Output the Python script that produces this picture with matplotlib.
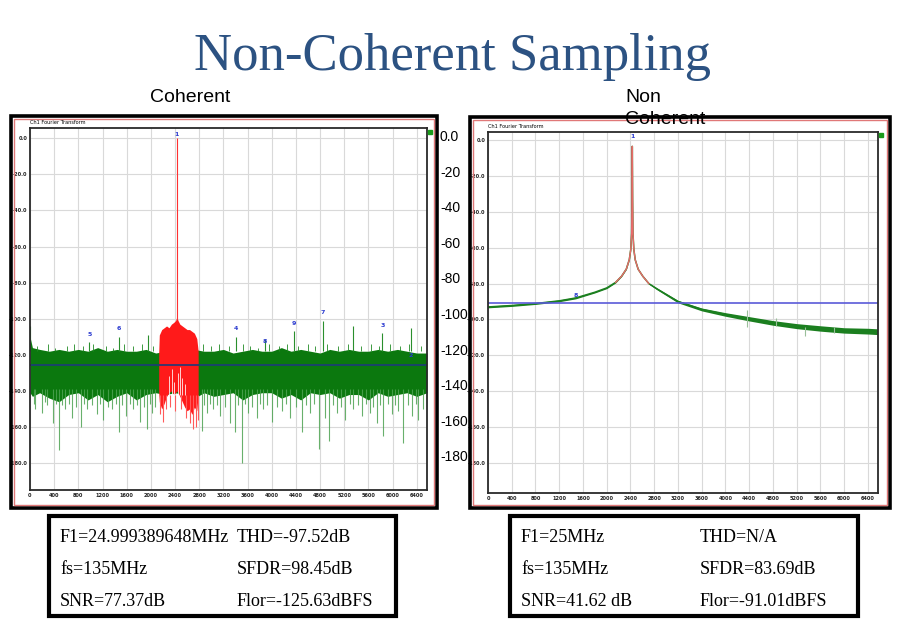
import matplotlib.pyplot as plt
from matplotlib.patches import Rectangle

# canvas size in pixels (figure is built in pixel coordinates)
W, H = 900, 628

# ---------------- shared axis ticks ----------------
FREQ_TICKS = [0, 400, 800, 1200, 1600, 2000, 2400, 2800, 3200, 3600,
              4000, 4400, 4800, 5200, 5600, 6000, 6400]
DB_TICKS = [0, -20, -40, -60, -80, -100, -120, -140, -160, -180]
DB_TICK_LABELS = ['0.0', '-20.0', '-40.0', '-60.0', '-80.0', '-100.0',
                  '-120.0', '-140.0', '-160.0', '-180.0']
SIDE_LABELS = ['0.0', '-20', '-40', '-60', '-80', '-100', '-120', '-140', '-160', '-180']

# ---------------- coherent spectrum ----------------
COH_NOISE_X = [0, 40, 160, 320, 480, 640, 800, 960, 1120, 1280, 1440, 1600, 1760,
               1920, 2080, 2240, 2400, 2560, 2720, 2880, 3040, 3200, 3360, 3520,
               3680, 3840, 4000, 4160, 4320, 4480, 4640, 4800, 4960, 5120, 5280,
               5440, 5600, 5760, 5920, 6080, 6240, 6400, 6570]
COH_NOISE_TOP = [-110, -116, -117, -118, -117, -118, -117, -118, -116, -118, -117, -118, -118,
                 -117, -119, -118, -117, -118, -117, -118, -118, -117, -119, -118,
                 -117, -118, -118, -116, -118, -117, -118, -119, -117, -118, -117,
                 -118, -118, -117, -118, -117, -118, -119, -119]
COH_NOISE_BOT = [-141, -143, -141, -144, -146, -142, -141, -145, -142, -146, -143, -141, -145,
                 -142, -141, -142, -141, -142, -144, -141, -143, -142, -141, -145,
                 -142, -141, -141, -144, -142, -145, -141, -142, -141, -144, -142,
                 -142, -145, -141, -143, -142, -141, -143, -141]

COH_DIP_X = [60, 83, 193, 240, 276, 386, 430, 486, 530, 579, 640, 690, 760, 844, 900,
             949, 1030, 1103, 1160, 1214, 1290, 1352, 1420, 1479, 1530, 1589, 1650,
             1710, 1770, 1821, 1880, 1931, 1980, 2014, 2070, 2841, 2880, 2924, 2980,
             3034, 3090, 3145, 3230, 3310, 3398, 3450, 3503, 3560, 3614, 3680, 3752,
             3800, 3862, 3930, 4000, 4080, 4165, 4230, 4303, 4400, 4496, 4560, 4634,
             4700, 4783, 4883, 4954, 5010, 5076, 5140, 5214, 5290, 5352, 5420, 5490,
             5560, 5627, 5680, 5738, 5800, 5848, 5920, 5986, 6040, 6097, 6179, 6250,
             6317, 6380, 6427, 6510]
COH_DIP_DB = [-147, -150, -152, -146, -148, -158, -147, -173, -148, -150, -147, -155, -149, -160, -147,
              -150, -148, -153, -147, -156, -149, -150, -147, -163, -148, -154, -147,
              -150, -148, -157, -149, -161, -147, -152, -149, -162, -148, -152, -147,
              -150, -148, -154, -149, -158, -163, -148, -180, -147, -152, -149, -155,
              -147, -150, -148, -157, -149, -151, -147, -155, -149, -163, -148, -152,
              -147, -172, -155, -168, -148, -152, -149, -156, -147, -150, -148, -154,
              -147, -152, -149, -158, -148, -165, -147, -153, -148, -151, -169, -148,
              -154, -147, -156, -150]

COH_TUFT_X = [120, 300, 420, 610, 720, 870, 1050, 1250, 1380, 1560, 1700, 1860, 2040,
              2870, 3000, 3120, 3300, 3520, 3640, 3780, 3960, 4120, 4260, 4440, 4600,
              4720, 4920, 5100, 5260, 5480, 5650, 5780, 5960, 6130, 6280, 6470]
COH_TUFT_DB = [-115, -114, -116, -115, -114, -115, -114, -115, -116, -114, -115, -114, -115,
               -114, -115, -114, -115, -114, -115, -116, -114, -115, -114, -115, -114,
               -115, -114, -115, -114, -115, -114, -115, -114, -115, -114, -115]

COH_SPUR_X = [8, 982, 1473, 1948, 3415, 3890, 4370, 4850, 5341, 5832, 6306]
COH_SPUR_DB = [-104, -113, -110, -109, -110, -111, -107, -101, -104, -108, -105]
COH_SPUR_LABEL = ['', '5', '6', '', '4', '8', '9', '7', '', '3', '2']
COH_SPUR_LABEL_DB = [0, -110, -107, 0, -107, -114, -104, -98, 0, -105, -122]

COH_RED_X = [2130, 2140, 2180, 2220, 2260, 2300, 2340, 2380, 2410, 2430, 2450, 2480,
             2520, 2560, 2600, 2640, 2680, 2720, 2760, 2783]
COH_RED_TOP = [-119, -109, -106, -105, -104, -105, -103, -102, -101, -99, -101, -103,
               -104, -105, -106, -106, -107, -108, -111, -118]
COH_RED_BOT = [-141, -146, -150, -147, -143, -141, -140, -142, -141, -140, -141, -143,
               -146, -149, -151, -150, -153, -149, -151, -142]
COH_RED_DIP_X = [2150, 2200, 2250, 2320, 2400, 2500, 2580, 2650, 2700, 2745, 2775]
COH_RED_DIP_DB = [-153, -157, -150, -149, -151, -150, -155, -158, -161, -160, -156]
COH_RED_GAP_X = [2300, 2350, 2390, 2445, 2475, 2520, 2560]
COH_RED_GAP_DB = [-132, -128, -135, -130, -127, -133, -136]

COH_TONE_X = 2430
COH_FLOOR = -125.63

# ---------------- non-coherent spectrum ----------------
NC_X = [0, 400, 800, 1200, 1476, 1800, 2000, 2150, 2250, 2330, 2380, 2405, 2420, 2426,
        2431, 2436, 2442, 2457, 2480, 2530, 2610, 2710, 2850, 3000, 3200, 3600, 4000,
        4400, 4800, 5200, 5600, 6000, 6400, 6560]
NC_DB = [-93.0, -92.2, -91.1, -89.6, -88.0, -84.8, -82.4, -79.3, -75.9, -71.9, -66.7,
         -61.0, -52.0, -33.0, -3.5, -33.0, -52.0, -61.0, -66.7, -72.0, -76.0, -80.0,
         -83.0, -86.0, -90.0, -94.4, -97.2, -99.6, -101.9, -103.7, -105.0, -106.1,
         -106.5, -106.8]
NC_SPREAD = [0.5, 0.5, 0.5, 0.5, 0.5, 0.4, 0.4, 0.3, 0.2, 0.2, 0.1, 0.1, 0.1, 0.1,
             0.0, 0.1, 0.1, 0.1, 0.1, 0.2, 0.2, 0.3, 0.5, 0.6, 0.7, 0.8, 1.0,
             1.2, 1.3, 1.4, 1.5, 1.5, 1.6, 1.6]
NC_SPUR_X = [4370, 4850, 5341, 5832]
NC_SPUR_TOP = [-94.5, -99.0, -104.0, -104.0]
NC_SPUR_BOT = [-104.0, -103.5, -109.0, -107.5]
NC_FLOOR = -91.01

# ---------------- stats boxes ----------------
COH_STATS = [['F1=24.999389648MHz', 'THD=-97.52dB'],
             ['fs=135MHz', 'SFDR=98.45dB'],
             ['SNR=77.37dB', 'Flor=-125.63dBFS']]
NC_STATS = [['F1=25MHz', 'THD=N/A'],
            ['fs=135MHz', 'SFDR=83.69dB'],
            ['SNR=41.62 dB', 'Flor=-91.01dBFS']]


def px_box(x0, y0, x1, y1):
    return [x0 / W, 1 - y1 / H, (x1 - x0) / W, (y1 - y0) / H]


def fig_rect(fig, x0, y0, x1, y1, color, lw):
    fig.add_artist(Rectangle((x0 / W, 1 - y1 / H), (x1 - x0) / W, (y1 - y0) / H,
                             transform=fig.transFigure, fill=False, ec=color, lw=lw))


def panel_frame(fig, x0, y0, x1, y1):
    fig_rect(fig, x0, y0, x1, y1, 'black', 2.6)
    fig_rect(fig, x0 + 3, y0 + 3, x1 - 3, y1 - 3, '#e07878', 1.0)


def style_axes(ax, ylim):
    ax.set_xlim(0, 6570)
    ax.set_ylim(*ylim)
    ax.set_xticks(FREQ_TICKS)
    ax.set_xticklabels([str(t) for t in FREQ_TICKS], fontsize=3.6, fontweight='bold')
    ax.set_yticks(DB_TICKS)
    ax.set_yticklabels(DB_TICK_LABELS, fontsize=3.6, fontweight='bold')
    ax.tick_params(length=0, pad=2, colors='#222222')
    ax.grid(True, color='#d9d9d9', lw=0.8)
    ax.set_axisbelow(True)
    for s in ax.spines.values():
        s.set_color('#2a2a2a')
        s.set_linewidth(1.3)


fig = plt.figure(figsize=(9, 6.28), dpi=100)

fig.text(453 / W, 1 - 70 / H, 'Non-Coherent Sampling', ha='center', va='baseline',
         family='Liberation Serif', fontsize=38, color='#2c5282')
fig.text(150 / W, 1 - 97 / H, 'Coherent', ha='left', va='center',
         family='Liberation Sans', fontsize=14)

# ---- left panel: coherent ----
panel_frame(fig, 11, 116, 437, 508)
ax1 = fig.add_axes(px_box(30, 128, 427, 490))
style_axes(ax1, (-194.9, 5.7))
ax1.fill_between(COH_NOISE_X, COH_NOISE_BOT, COH_NOISE_TOP, color='#0b780e', lw=0)
ax1.vlines(COH_DIP_X, -139, COH_DIP_DB, color='#4ea352', lw=0.8, alpha=0.85)
ax1.vlines(COH_TUFT_X, -118, COH_TUFT_DB, color='#1f8a22', lw=0.6)
ax1.vlines(COH_SPUR_X, -118, COH_SPUR_DB, color='#2a8f2d', lw=0.8)
for x, lab, y in zip(COH_SPUR_X, COH_SPUR_LABEL, COH_SPUR_LABEL_DB):
    if lab:
        ax1.text(x, y, lab, ha='center', va='bottom', fontsize=4.5,
                 color='#2b3bd0', fontweight='bold')
ax1.fill_between(COH_RED_X, COH_RED_BOT, COH_RED_TOP, color='#ff1a1a', lw=0)
ax1.vlines(COH_RED_GAP_X, COH_RED_GAP_DB, -142, color='white', lw=0.7, alpha=0.8)
ax1.vlines(COH_RED_DIP_X, -142, COH_RED_DIP_DB, color='#ff5a5a', lw=0.8)
ax1.vlines([COH_TONE_X], -100, 0, color='#ff3030', lw=0.8)
ax1.text(COH_TONE_X, 0.5, '1', ha='center', va='bottom', fontsize=4.5,
         color='#2b3bd0', fontweight='bold')
ax1.axhline(COH_FLOOR, color='#1c3a78', lw=1.2)
fig.text(30 / W, 1 - 123 / H, 'Ch1 Fourier Transform', fontsize=3.6, va='center')
fig.add_artist(Rectangle((428 / W, 1 - 134 / H), 4 / W, 4 / H,
                         transform=fig.transFigure, color='#1a9a1a'))
for k, lab in enumerate(SIDE_LABELS):
    fig.text(440 / W, 1 - (137 + 35.6 * k) / H, lab, ha='left', va='center',
             family='Liberation Sans', fontsize=10)

# ---- right panel: non-coherent ----
panel_frame(fig, 470, 117, 890, 508)
ax2 = fig.add_axes(px_box(488, 132, 878, 493))
style_axes(ax2, (-196.7, 4.5))
lo = [d - s for d, s in zip(NC_DB, NC_SPREAD)]
hi = [d + s for d, s in zip(NC_DB, NC_SPREAD)]
ax2.fill_between(NC_X, lo, hi, color='#1b7f1f', lw=0)
ax2.plot(NC_X, NC_DB, color='#1b7f1f', lw=1.1)
ax2.plot(NC_X[7:22], NC_DB[7:22], color='#e86a6a', lw=1.0)
ax2.vlines(NC_SPUR_X, NC_SPUR_BOT, NC_SPUR_TOP, color='#9abf9a', lw=0.8)
ax2.axhline(NC_FLOOR, color='#5a5ad8', lw=1.2)
ax2.text(1476, -88, '8', ha='center', va='bottom', fontsize=4.5,
         color='#2b3bd0', fontweight='bold')
ax2.text(2431, 0.5, '1', ha='center', va='bottom', fontsize=4.5,
         color='#2b3bd0', fontweight='bold')
fig.text(488 / W, 1 - 126 / H, 'Ch1 Fourier Transform', fontsize=3.6, va='center')
fig.add_artist(Rectangle((879 / W, 1 - 137 / H), 4 / W, 4 / H,
                         transform=fig.transFigure, color='#1a9a1a'))
fig.text(625 / W, 1 - 97 / H, 'Non', ha='left', va='center',
         family='Liberation Sans', fontsize=14)
fig.text(625 / W, 1 - 120 / H, 'Coherent', ha='left', va='center',
         family='Liberation Sans', fontsize=14)

# ---- stats boxes ----
for (x0, x1, col2, stats) in [(49, 396, 237, COH_STATS), (510, 858, 700, NC_STATS)]:
    fig_rect(fig, x0, 516, x1, 616, 'black', 3)
    for r, row in enumerate(stats):
        y = 1 - (537 + 32.5 * r) / H
        fig.text((x0 + 11) / W, y, row[0], ha='left', va='center',
                 family='Liberation Serif', fontsize=13)
        fig.text(col2 / W, y, row[1], ha='left', va='center',
                 family='Liberation Serif', fontsize=13)

fig.savefig('out.png', dpi=100)
